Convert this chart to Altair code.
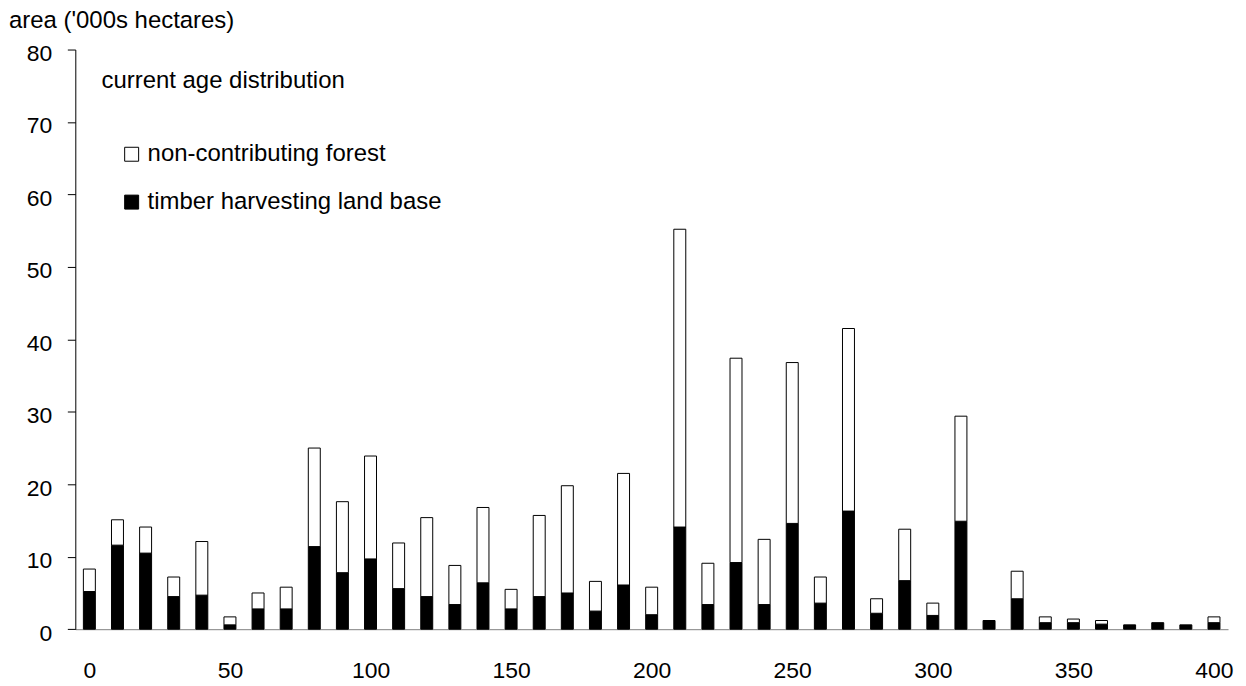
import altair as alt
import pandas as pd

# ---- data ----
ages = list(range(0, 401, 10))
thlb = [5.2, 11.6, 10.5, 4.5, 4.7, 0.6, 2.8, 2.8, 11.4, 7.8,
        9.7, 5.6, 4.5, 3.4, 6.4, 2.8, 4.5, 5.0, 2.5, 6.1,
        2.0, 14.1, 3.4, 9.2, 3.4, 14.6, 3.6, 16.3, 2.2, 6.7,
        1.9, 14.9, 1.2, 4.2, 0.9, 0.9, 0.7, 0.6, 0.9, 0.6,
        0.9]
noncontrib = [3.1, 3.5, 3.6, 2.7, 7.4, 1.1, 2.2, 3.0, 13.6, 9.8,
              14.2, 6.3, 10.9, 5.4, 10.4, 2.7, 11.2, 14.8, 4.1, 15.4,
              3.8, 41.1, 5.7, 28.2, 9.0, 22.2, 3.6, 25.2, 2.0, 7.1,
              1.7, 14.5, 0.0, 3.8, 0.8, 0.5, 0.5, 0.0, 0.0, 0.0,
              0.8]
series_names = ["non-contributing forest", "timber harvesting land base"]
series_colors = ["white", "black"]
x_ticks = [0, 50, 100, 150, 200, 250, 300, 350, 400]
y_ticks = [0, 10, 20, 30, 40, 50, 60, 70, 80]
y_title = "area ('000s hectares)"
note = ["current age distribution"]

rows = []
for a, t, n in zip(ages, thlb, noncontrib):
    rows.append({"age": a, "series": series_names[1], "base": 0.0, "top": t})
    if n > 0:
        rows.append({"age": a, "series": series_names[0], "base": t, "top": t + n})
df = pd.DataFrame(rows)

FONT = "Liberation Sans"
FS_NUM = 23
FS_TXT = 24

bars = alt.Chart(df).mark_bar(size=12, stroke="black", strokeWidth=1).encode(
    x=alt.X("age:Q",
            scale=alt.Scale(domain=[-5, 405], nice=False, zero=False, padding=0),
            axis=alt.Axis(values=x_ticks, title=None, ticks=False, tickSize=0,
                          labelPadding=30, domainColor="#808080", domainWidth=1,
                          labelFontSize=FS_NUM, labelFont=FONT, labelColor="black",
                          grid=False, labelFlush=False, labelBound=False)),
    y=alt.Y("top:Q",
            scale=alt.Scale(domain=[0, 80], nice=False, padding=0),
            axis=alt.Axis(values=y_ticks, title=y_title, titleAngle=0,
                          titleX=-67, titleY=-22, titleAlign="left",
                          titleBaseline="alphabetic", titleFont=FONT,
                          titleFontSize=FS_TXT, titleFontWeight="normal",
                          titleColor="black", tickSize=8, tickColor="black",
                          domainColor="black", labelPadding=15.5, labelOffset=4,
                          labelFontSize=FS_NUM, labelFont=FONT, labelColor="black",
                          grid=False)),
    y2="base:Q",
    color=alt.Color("series:N",
                    scale=alt.Scale(domain=series_names, range=series_colors),
                    legend=alt.Legend(title=None, orient="none", legendX=44.5,
                                      legendY=93, symbolType="square",
                                      symbolSize=196, symbolStrokeColor="black",
                                      symbolStrokeWidth=1, labelFont=FONT,
                                      labelFontSize=FS_TXT, labelColor="black",
                                      labelOffset=4, labelLimit=0, rowPadding=24,
                                      padding=0, direction="vertical")),
)

text = alt.Chart(pd.DataFrame({"t": note})).mark_text(
    align="left", baseline="alphabetic", font=FONT, fontSize=FS_TXT, color="black"
).encode(x=alt.value(26.2), y=alt.value(38.6), text="t:N")

chart = alt.layer(bars, text).properties(
    width=1156,
    height=581.3,
    padding={"left": 67.5, "top": 40.7, "right": 10, "bottom": 56},
    autosize=alt.AutoSizeParams(type="none"),
).configure(background="white").configure_view(strokeWidth=0, stroke="transparent")

chart.save("out.html", embed_options={"renderer": "svg", "actions": False})
